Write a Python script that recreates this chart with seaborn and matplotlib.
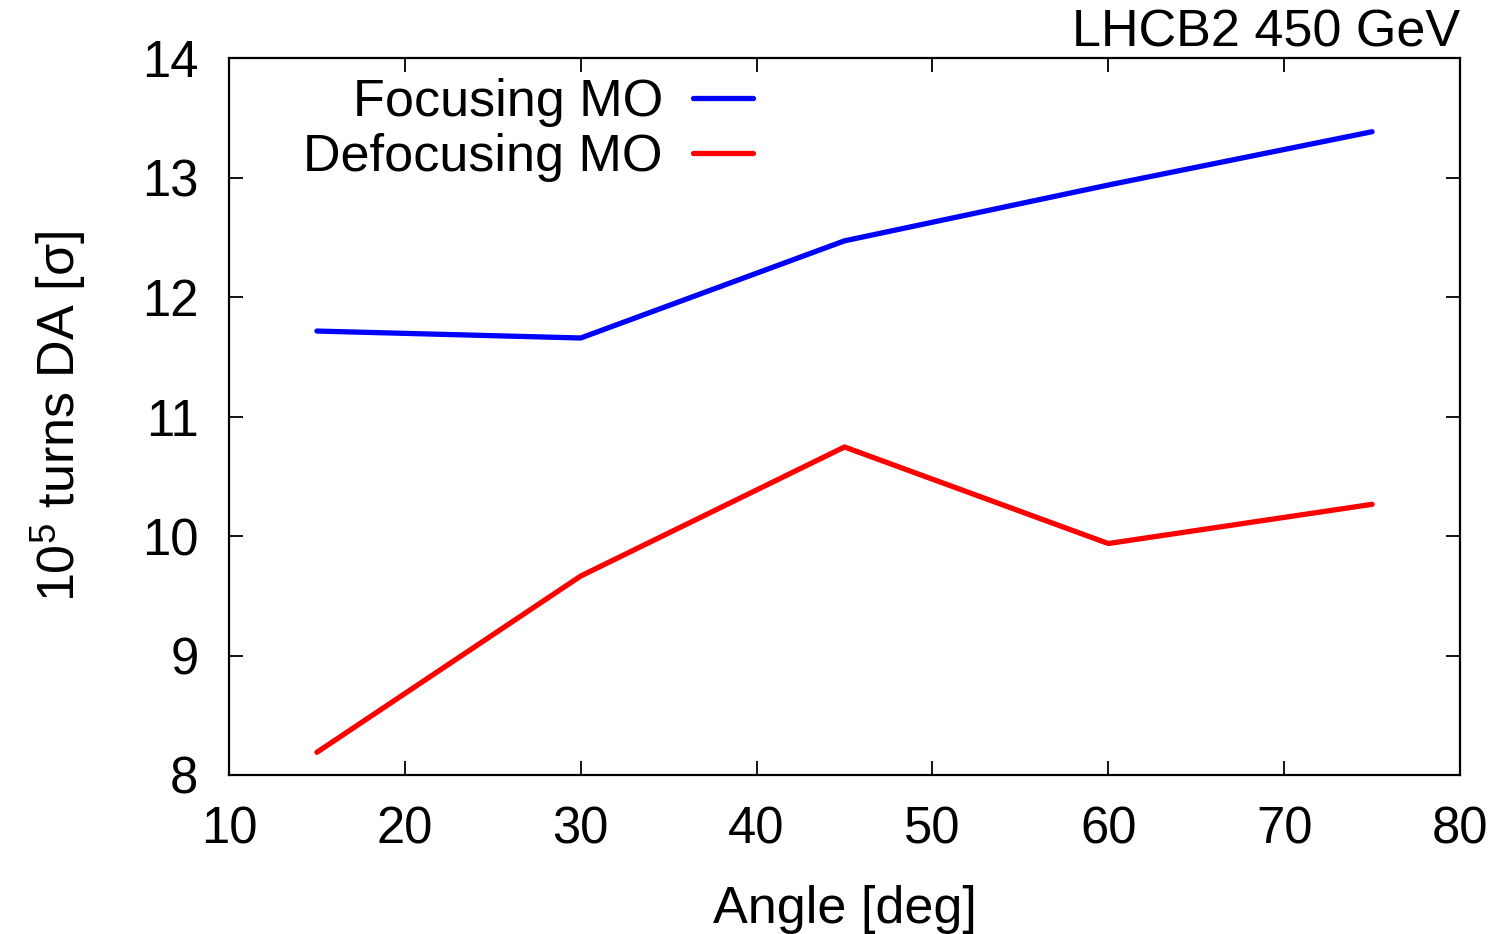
import numpy as np
import pandas as pd
import matplotlib
matplotlib.use("Agg")
import matplotlib.pyplot as plt
import seaborn as sns

angles = [15, 30, 45, 60, 75]
focusing = [11.715, 11.657, 12.470, 12.937, 13.383]
defocusing = [8.190, 9.665, 10.745, 9.937, 10.265]
series_names = ["Focusing MO", "Defocusing MO"]
colors = ["#0000ff", "#ff0000"]
xticks = [10, 20, 30, 40, 50, 60, 70, 80]
yticks = [8, 9, 10, 11, 12, 13, 14]

df = pd.concat([
    pd.DataFrame({"angle": angles, "da": focusing, "series": series_names[0]}),
    pd.DataFrame({"angle": angles, "da": defocusing, "series": series_names[1]}),
])

sns.set_style("ticks")
plt.rcParams["font.family"] = ["Liberation Sans", "DejaVu Sans"]
plt.rcParams["mathtext.fontset"] = "custom"
plt.rcParams["mathtext.rm"] = "Liberation Sans"
plt.rcParams["mathtext.default"] = "regular"
plt.rcParams["text.color"] = "black"
plt.rcParams["axes.labelcolor"] = "black"

fig = plt.figure(figsize=(15.01, 9.34), dpi=100)
ax = fig.add_axes([229/1501, 1-775/934, (1460-229)/1501, (775-58)/934])

sns.lineplot(data=df, x="angle", y="da", hue="series", hue_order=series_names,
             palette=dict(zip(series_names, colors)), linewidth=3.8, ax=ax,
             estimator=None, sort=False)

ax.set_xlim(10, 80)
ax.set_ylim(8, 14)
ax.set_xticks(xticks)
ax.set_yticks(yticks)
ax.tick_params(direction="in", length=10, width=1.3, top=True, right=True,
               labelsize=36.5, pad=22, colors="black", labelcolor="black")
for s in ax.spines.values():
    s.set_visible(True)
    s.set_linewidth(1.6)
    s.set_color("black")

ax.set_xlabel("Angle [deg]", fontsize=37.5, labelpad=22, color="black")
ax.set_ylabel(r"10$^{5}$ turns DA [σ]", fontsize=37.5, labelpad=38, color="black")

ax.annotate("LHCB2 450 GeV", xy=(1.0, 1.0), xycoords="axes fraction",
            xytext=(0, 8), textcoords="offset points", ha="right", va="baseline",
            fontsize=37.5, color="black")

leg = ax.legend(loc="upper right", bbox_to_anchor=(0.4257, 0.972),
                frameon=False, markerfirst=False, fontsize=37.5,
                handlelength=1.15, handletextpad=0.58, labelspacing=0.11,
                borderpad=0, borderaxespad=0)
for line in leg.get_lines():
    line.set_linewidth(3.8)
for t in leg.get_texts():
    t.set_color("black")

fig.savefig("out.png", dpi=100)
